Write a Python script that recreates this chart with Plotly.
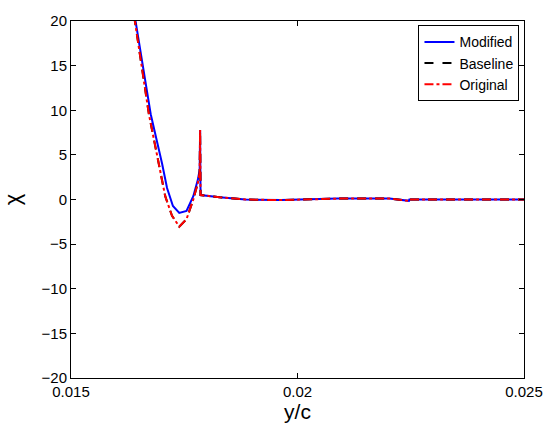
import plotly.graph_objects as go

# y/c positions and chi values
x_mod = [0.0162, 0.01643, 0.01676, 0.01701, 0.01712, 0.01725, 0.01739, 0.01755, 0.01770, 0.01780,
         0.01784, 0.01785, 0.01786, 0.01828, 0.01885, 0.01964, 0.02088, 0.02203, 0.02246, 0.02247, 0.025]
chi_mod = [27.0, 20.0, 9.55, 4.04, 1.29, -0.73, -1.5, -1.28, 0.37, 2.2,
           3.3, 7.8, 0.5, 0.26, 0.0, -0.07, 0.1, 0.1, -0.15, 0.0, 0.0]

x_base = [0.0162, 0.01641, 0.01672, 0.01694, 0.01708, 0.01723, 0.01739, 0.01755, 0.01770, 0.01780,
          0.01784, 0.01785, 0.01786, 0.01828, 0.01885, 0.01964, 0.02088, 0.02203, 0.02246, 0.02247, 0.025]
chi_base = [26.5, 20.0, 9.55, 4.04, 0.37, -1.83, -3.04, -2.2, 0.0, 1.84,
            3.0, 7.8, 0.5, 0.26, 0.0, -0.07, 0.1, 0.1, -0.15, 0.0, 0.0]

x_orig = x_base
chi_orig = chi_base

x_ticks = [0.015, 0.02, 0.025]
x_ticklabels = ["0.015", "0.02", "0.025"]
y_ticks = [-20, -15, -10, -5, 0, 5, 10, 15, 20]

fig = go.Figure()
fig.add_trace(go.Scatter(x=x_mod, y=chi_mod, mode="lines", name="Modified",
                         line=dict(color="#0000ff", width=2)))
fig.add_trace(go.Scatter(x=x_base, y=chi_base, mode="lines", name="Baseline",
                         line=dict(color="#000000", width=2, dash="dash")))
fig.add_trace(go.Scatter(x=x_orig, y=chi_orig, mode="lines", name="Original",
                         line=dict(color="#ff0000", width=2, dash="dashdot")))

axis_common = dict(showgrid=False, zeroline=False, showline=True, linecolor="black",
                   linewidth=1, mirror="ticks", ticks="inside", ticklen=5,
                   tickcolor="black", tickfont=dict(size=15, color="black"))

fig.update_layout(
    width=555, height=428,
    margin=dict(l=69, r=24, t=15, b=50),
    paper_bgcolor="white", plot_bgcolor="white",
    font=dict(family="Liberation Sans, Arial, sans-serif", color="black"),
    xaxis=dict(range=[0.015, 0.025], tickvals=x_ticks, ticktext=x_ticklabels,
               title=dict(text="y/c", font=dict(size=21), standoff=0), **axis_common),
    yaxis=dict(range=[-20, 20], tickvals=y_ticks,
               title=dict(text="χ", font=dict(size=22), standoff=14), **axis_common),
    legend=dict(x=0.99, y=0.988, xanchor="right", yanchor="top",
                bgcolor="white", bordercolor="black", borderwidth=1,
                font=dict(size=14), itemwidth=30, tracegroupgap=0),
    showlegend=True,
)

fig.write_html("out.html")
